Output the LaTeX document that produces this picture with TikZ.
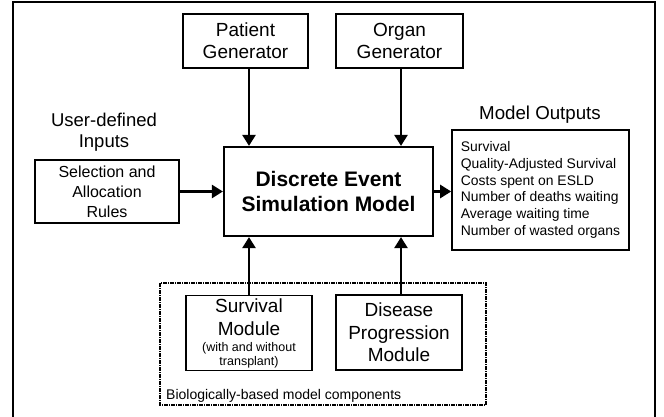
\documentclass[tikz,border=0pt]{standalone}
\usepackage{fontspec}
\setmainfont{Liberation Sans}
\usetikzlibrary{arrows.meta}
\tikzset{
  box/.style={draw, line width=1.6pt, align=center, inner sep=2pt},
  arr/.style={line width=2.5pt, -{Triangle[length=11pt,width=13pt]}},
  lbl/.style={align=center, inner sep=0pt},
}
\begin{document}
\begin{tikzpicture}[x=1pt,y=-1pt]
\useasboundingbox (0,0) rectangle (664,417);
% outer frame
\draw[line width=1.4pt] (13,430) -- (13,2) -- (655,2) -- (655,430);
% dotted group
\draw[line width=1.4pt, dash pattern=on 4pt off 1pt on 1pt off 1pt] (160,283) rectangle (486,405);
\node[anchor=base west, inner sep=0pt, font=\fontsize{14}{16}\selectfont] (biol) at (166,399) {Biologically-based model components};

\node[box, minimum width=125pt, minimum height=54pt, font=\fontsize{19}{22}\selectfont] (patient) at (245.5,41) {Patient\\Generator};
\node[box, minimum width=127pt, minimum height=54pt, font=\fontsize{19}{22}\selectfont] (organ) at (399.5,41) {Organ\\Generator};
\node[box, line width=2.2pt, minimum width=209pt, minimum height=89pt, font=\fontsize{21}{25}\selectfont\bfseries] (main) at (328.5,191.5) {Discrete Event\\Simulation Model};
\node[box, minimum width=144pt, minimum height=63pt, font=\fontsize{16}{20}\selectfont] (sel) at (107,191.5) {Selection and\\Allocation\\Rules};
\node[lbl, font=\fontsize{18.5}{21}\selectfont] (uin) at (104,132.5) {User-defined\\Inputs};
\node[box, minimum width=177pt, minimum height=120pt, align=left, inner sep=0pt, font=\fontsize{13.9}{16.8}\selectfont] (out) at (540.5,190) {Survival\\Quality-Adjusted Survival\\Costs spent on ESLD\\Number of deaths waiting\\Average waiting time\\Number of wasted organs};
\node[lbl, font=\fontsize{18.7}{21}\selectfont] (mout) at (540,115) {Model Outputs};
\node[box, minimum width=126pt, minimum height=75pt, inner sep=0pt, text width=124pt] (surv) at (249,333) {\fontsize{19}{23}\selectfont Survival\\Module\par\vspace{3pt}\fontsize{12.5}{13.5}\selectfont (with and without\\transplant)\par};
\node[box, minimum width=126pt, minimum height=75pt, font=\fontsize{19}{22.5}\selectfont] (dis) at (399,332.5) {Disease\\Progression\\Module};

\coordinate (xa) at (249,0);
\coordinate (xb) at (401,0);
\draw[arr] (patient.south -| xa) -- (main.north -| xa);
\draw[arr] (organ.south -| xb) -- (main.north -| xb);
\draw[arr] (surv.north -| xa) -- (main.south -| xa);
\draw[arr] (dis.north -| xb) -- (main.south -| xb);
\draw[arr] (sel.east |- main.west) -- (main.west);
\draw[arr] (main.east) -- (out.west |- main.east);
\end{tikzpicture}
\end{document}
